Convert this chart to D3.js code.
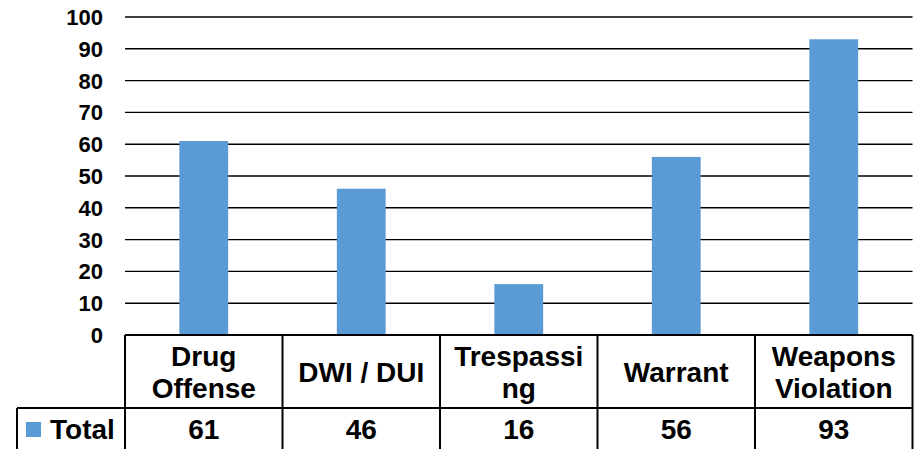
<!DOCTYPE html>
<html>
<head>
<meta charset="utf-8">
<script src="https://cdn.jsdelivr.net/npm/d3@7"></script>
<style>
  html, body { margin: 0; padding: 0; background: #fff; }
  svg { display: block; }
</style>
</head>
<body>
<svg id="chart" width="914" height="449"></svg>
<script>
// data
const categories = ['Drug Offense', 'DWI / DUI', 'Trespassing', 'Warrant', 'Weapons Violation'];
const labelLines = [['Drug', 'Offense'], ['DWI / DUI'], ['Trespassi', 'ng'], ['Warrant'], ['Weapons', 'Violation']];
const totals = [61, 46, 16, 56, 93];
const yTicks = [0, 10, 20, 30, 40, 50, 60, 70, 80, 90, 100];
const seriesName = 'Total';

const svg = d3.select('#chart');
const font = 'Arial, "Liberation Sans", sans-serif';
const blue = '#5B9BD5';

// layout (note: "top" is taken by window.top, hence plot_*)
const plot_left = 125, plot_right = 912.5, plot_top = 17, zeroY = 335;
const row1 = 408, row2 = 470;   // table row bottoms
const tableLeft = 17;

const x = d3.scaleBand()
    .domain(categories)
    .range([plot_left, plot_right]);

const y = d3.scaleLinear()
    .domain([0, 100])
    .range([zeroY, plot_top]);

// gridlines
svg.append('g')
  .selectAll('line')
  .data(yTicks.filter(t => t > 0))
  .enter().append('line')
    .attr('x1', plot_left).attr('x2', plot_right)
    .attr('y1', t => y(t)).attr('y2', t => y(t))
    .attr('stroke', '#000')
    .attr('stroke-width', 1.4);

// tick labels
svg.append('g')
  .selectAll('text')
  .data(yTicks)
  .enter().append('text')
    .attr('x', 103)
    .attr('y', t => y(t))
    .attr('dy', '0.36em')
    .attr('text-anchor', 'end')
    .attr('font-family', font)
    .attr('font-weight', 'bold')
    .attr('font-size', '22px')
    .attr('fill', '#000')
    .text(t => t);

// bars
const barW = x.bandwidth() * 0.31;
svg.append('g')
  .selectAll('rect')
  .data(categories)
  .enter().append('rect')
    .attr('x', (c) => x(c) + (x.bandwidth() - barW) / 2)
    .attr('y', (c, i) => y(totals[i]))
    .attr('width', barW)
    .attr('height', (c, i) => y(0) - y(totals[i]))
    .attr('fill', blue);

// data table
const tbl = svg.append('g')
    .attr('stroke', '#000')
    .attr('stroke-width', 2);

tbl.append('line').attr('x1', plot_left).attr('x2', plot_right).attr('y1', zeroY).attr('y2', zeroY);
tbl.append('line').attr('x1', tableLeft).attr('x2', plot_right).attr('y1', row1).attr('y2', row1);
tbl.append('line').attr('x1', tableLeft).attr('x2', tableLeft).attr('y1', row1).attr('y2', row2);

tbl.selectAll('.vline')
  .data(categories.concat(['end']))
  .enter().append('line')
    .attr('class', 'vline')
    .attr('x1', (c, i) => plot_left + i * x.bandwidth())
    .attr('x2', (c, i) => plot_left + i * x.bandwidth())
    .attr('y1', zeroY).attr('y2', row2);

// header labels
const lineH = 32;
svg.append('g')
  .selectAll('text')
  .data(categories)
  .enter().append('text')
    .attr('x', c => x(c) + x.bandwidth() / 2)
    .attr('text-anchor', 'middle')
    .attr('font-family', font)
    .attr('font-weight', 'bold')
    .attr('font-size', '28px')
    .attr('fill', '#000')
    .each(function (c, i) {
      const lines = labelLines[i];
      const mid = (zeroY + row1) / 2;
      const start = mid - (lines.length - 1) * lineH / 2;
      d3.select(this).selectAll('tspan')
        .data(lines)
        .enter().append('tspan')
          .attr('x', x(c) + x.bandwidth() / 2)
          .attr('y', (l, j) => start + j * lineH)
          .attr('dy', '0.36em')
          .text(l => l);
    });

// values row
svg.append('g')
  .selectAll('text')
  .data(categories)
  .enter().append('text')
    .attr('x', c => x(c) + x.bandwidth() / 2)
    .attr('y', 429)
    .attr('dy', '0.36em')
    .attr('text-anchor', 'middle')
    .attr('font-family', font)
    .attr('font-weight', 'bold')
    .attr('font-size', '28px')
    .attr('fill', '#000')
    .text((c, i) => totals[i]);

// legend key + series name
svg.append('rect')
  .attr('x', 26).attr('y', 422)
  .attr('width', 15).attr('height', 15)
  .attr('fill', blue);

svg.append('text')
  .attr('x', 50)
  .attr('y', 429)
  .attr('dy', '0.36em')
  .attr('font-family', font)
  .attr('font-weight', 'bold')
  .attr('font-size', '28px')
  .attr('fill', '#000')
  .text(seriesName);
</script>
</body>
</html>
